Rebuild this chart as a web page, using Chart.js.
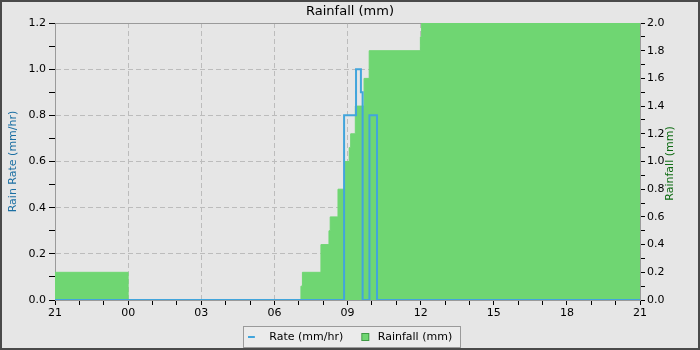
<!DOCTYPE html>
<html><head><meta charset="utf-8">
<script src="https://cdn.jsdelivr.net/npm/chart.js@4"></script>
<style>html,body{margin:0;padding:0;background:#e6e6e6}#wrap{width:700px;height:350px}</style>
</head><body><div id="wrap"><canvas id="c" width="700" height="350"></canvas></div>
<script>
// ---- data (x = hours since 21:00) ----
const xTickLabels = ['21','00','03','06','09','12','15','18','21'];
const rateTimes  = [0, 11.86, 12.35, 12.55, 12.62, 12.90, 13.21, 24];
const rateValues = [0, 0.8,   1.0,   0.9,   0,     0.8,   0,     0];
const rainTimes  = [0,   3, 10.09, 10.15, 10.91, 11.24, 11.29, 11.61, 11.90, 12.07, 12.13, 12.32, 12.68, 12.89, 14.99, 15.04, 24];
const rainValues = [0.2, 0, 0.1,   0.2,   0.4,   0.5,   0.6,   0.8,   1.0,   1.1,   1.2,   1.4,   1.6,   1.8,   1.9,   2.0,   2.0];

const FONT = 'DejaVu Sans';
const BLUE = '#42a5dc';
const GREEN = '#6fd672';
const GRID = '#bcbcbc';
const AXIS = '#9a9a9a';

function makeMarker(w, h, draw) {
  const c = document.createElement('canvas'); c.width = w; c.height = h;
  draw(c.getContext('2d')); return c;
}
const rateMarker = makeMarker(16, 2, g => { g.fillStyle = BLUE; g.fillRect(0, 0, 7, 2); });
const rainMarker = makeMarker(16, 8, g => {
  g.fillStyle = GREEN; g.fillRect(5, 0, 8, 8);
  g.strokeStyle = '#3f9a45'; g.lineWidth = 1; g.strokeRect(5.5, 0.5, 7, 7);
});

const isLabelStep = v => Math.round(v * 10) % 2 === 0;

const decor = {
  id: 'decor',
  afterLayout(chart) {
    const L = chart.legend; L.top += 2.5; L.bottom += 2.5;
  },
  beforeDraw(chart) {
    const {ctx} = chart;
    ctx.save();
    ctx.fillStyle = '#e6e6e6'; ctx.fillRect(0, 0, 700, 350);
    ctx.strokeStyle = '#4a4a4a'; ctx.lineWidth = 2; ctx.strokeRect(1, 1, 698, 348);
    // legend frame
    const L = chart.legend;
    const hb = L.legendHitBoxes;
    if (hb && hb.length) {
      const left = Math.min(...hb.map(h => h.left)) - 5;
      const right = Math.max(...hb.map(h => h.left + h.width)) + 8;
      const cy = L.top + L.options.labels.padding + 5.5;
      ctx.fillStyle = '#ebebeb';
      ctx.fillRect(Math.round(left) + 0.5, Math.round(cy - 11) + 0.5, Math.round(right - left), 21);
      ctx.strokeStyle = AXIS; ctx.lineWidth = 1;
      ctx.strokeRect(Math.round(left) + 0.5, Math.round(cy - 11) + 0.5, Math.round(right - left), 21);
    }
    ctx.restore();
  },
  beforeDatasetsDraw(chart) {
    const {ctx, chartArea: a} = chart;
    ctx.save(); ctx.strokeStyle = AXIS; ctx.lineWidth = 1;
    ctx.beginPath(); ctx.moveTo(a.left, a.top + 0.5); ctx.lineTo(a.right, a.top + 0.5); ctx.stroke();
    ctx.restore();
  },
  afterDraw(chart) {
    const {ctx, chartArea: a} = chart;
    ctx.save();
    ctx.translate(670, (a.top + a.bottom) / 2 + 2);
    ctx.rotate(-Math.PI / 2);
    ctx.font = '11px "' + FONT + '"';
    ctx.fillStyle = '#0d6b12'; ctx.textAlign = 'center'; ctx.textBaseline = 'middle';
    ctx.fillText('Rainfall (mm)', 0, 0);
    ctx.restore();
  }
};

new Chart(document.getElementById('c'), {
  type: 'line',
  data: {
    datasets: [
      {
        label: 'Rate (mm/hr)',
        data: rateTimes.map((t, i) => ({x: t, y: rateValues[i]})),
        yAxisID: 'y', borderColor: BLUE, backgroundColor: BLUE, borderWidth: 2,
        stepped: true, pointRadius: 0, fill: false, pointStyle: rateMarker
      },
      {
        label: 'Rainfall (mm)',
        data: rainTimes.map((t, i) => ({x: t, y: rainValues[i]})),
        yAxisID: 'y1', borderColor: GREEN, backgroundColor: GREEN, borderWidth: 1,
        stepped: true, pointRadius: 0, fill: 'origin', pointStyle: rainMarker
      }
    ]
  },
  options: {
    responsive: false, animation: false, devicePixelRatio: 1,
    layout: {padding: 0},
    plugins: {
      title: {
        display: true, text: 'Rainfall (mm)', color: '#000',
        font: {family: FONT, size: 13, weight: 'normal'}, padding: {top: 4, bottom: 3.4}
      },
      legend: {
        position: 'bottom',
        labels: {
          usePointStyle: true, pointStyleWidth: 16, boxHeight: 8, padding: 13,
          color: '#000', font: {family: FONT, size: 11}
        }
      },
      tooltip: {enabled: false}
    },
    scales: {
      x: {
        type: 'linear', min: 0, max: 24,
        afterFit: s => { s.height = 16; },
        ticks: {
          stepSize: 1, autoSkip: false, maxRotation: 0, maxTicksLimit: 100, padding: 2,
          color: '#000', font: {family: FONT, size: 11},
          callback: v => (v % 3 === 0 ? xTickLabels[v / 3] : '')
        },
        grid: {
          color: c => (c.tick && c.tick.value % 3 === 0 && c.tick.value > 0 && c.tick.value < 24) ? GRID : 'rgba(0,0,0,0)',
          tickColor: '#000', tickLength: 5, lineWidth: 1
        },
        border: {display: true, color: AXIS, dash: [5, 3]}
      },
      y: {
        position: 'left', min: 0, max: 1.2,
        afterFit: s => { s.width = 55; },
        ticks: {
          stepSize: 0.1, autoSkip: false, maxTicksLimit: 100, padding: 3,
          color: '#000', font: {family: FONT, size: 11},
          callback: v => (isLabelStep(v) ? v.toFixed(1) : '')
        },
        grid: {
          color: c => (c.tick && isLabelStep(c.tick.value) && c.tick.value > 0.01 && c.tick.value < 1.19) ? GRID : 'rgba(0,0,0,0)',
          tickColor: '#000', tickLength: 6, lineWidth: 1
        },
        border: {display: true, color: AXIS, dash: [5, 3]},
        title: {
          display: true, text: 'Rain Rate (mm/hr)', color: '#1b6fa3',
          font: {family: FONT, size: 11}, padding: {top: 7, bottom: 0}
        }
      },
      y1: {
        position: 'right', min: 0, max: 2.0,
        afterFit: s => { s.width = 60; },
        ticks: {
          stepSize: 0.1, autoSkip: false, maxTicksLimit: 100, padding: 2,
          color: '#000', font: {family: FONT, size: 11},
          callback: v => (isLabelStep(v) ? v.toFixed(1) : '')
        },
        grid: {drawOnChartArea: false, color: '#000', tickColor: '#000', tickLength: 5},
        border: {display: true, color: AXIS}
      }
    }
  },
  plugins: [decor]
});
</script>
</body></html>
